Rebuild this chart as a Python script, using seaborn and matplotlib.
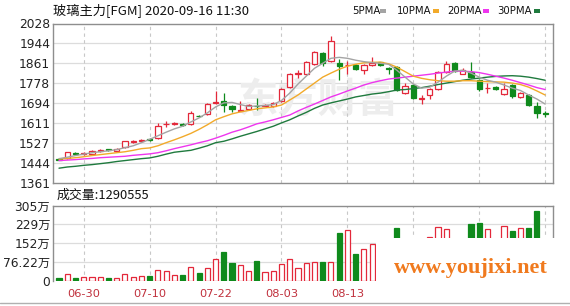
import numpy as np
import matplotlib
matplotlib.use("Agg")
import matplotlib.pyplot as plt
import seaborn as sns
from matplotlib.patches import Rectangle
from matplotlib.lines import Line2D

# ---------------- data ----------------
dates = ["06-23", "06-24", "06-29", "06-30", "07-01", "07-02", "07-03", "07-06", "07-07", "07-08",
         "07-09", "07-10", "07-13", "07-14", "07-15", "07-16", "07-17", "07-20", "07-21", "07-22",
         "07-23", "07-24", "07-27", "07-28", "07-29", "07-30", "07-31", "08-03", "08-04", "08-05",
         "08-06", "08-07", "08-10", "08-11", "08-12", "08-13", "08-14", "08-17", "08-18", "08-19",
         "08-20", "08-21", "08-24", "08-25", "08-26", "08-27", "08-28", "08-31", "09-01", "09-02",
         "09-03", "09-04", "09-07", "09-08", "09-09", "09-10", "09-11", "09-14", "09-15", "09-16"]

open_ = [1460, 1463, 1483, 1480, 1480, 1493, 1500, 1492, 1508, 1530,
         1536, 1542, 1547, 1605, 1608, 1607, 1606, 1642, 1649, 1694,
         1704, 1682, 1663, 1669, 1683, 1684, 1682, 1704, 1762, 1818,
         1818, 1860, 1904, 1871, 1863, 1853, 1856, 1832, 1853, 1865,
         1842, 1846, 1735, 1770, 1712, 1728, 1752, 1825, 1862, 1818,
         1825, 1793, 1756, 1762, 1732, 1770, 1718, 1728, 1682, 1652]
high = [1463, 1490, 1488, 1488, 1498, 1500, 1502, 1505, 1537, 1538,
        1544, 1546, 1610, 1619, 1616, 1610, 1660, 1645, 1693, 1745,
        1737, 1686, 1704, 1690, 1715, 1690, 1700, 1757, 1820, 1832,
        1871, 1912, 1908, 1974, 1878, 1871, 1860, 1857, 1888, 1868,
        1846, 1848, 1777, 1774, 1728, 1757, 1828, 1871, 1866, 1840,
        1867, 1796, 1779, 1765, 1777, 1774, 1742, 1732, 1699, 1662]
low = [1454, 1460, 1476, 1476, 1477, 1489, 1495, 1490, 1505, 1526,
       1532, 1535, 1544, 1595, 1603, 1600, 1603, 1636, 1646, 1692,
       1658, 1658, 1660, 1666, 1665, 1681, 1679, 1700, 1758, 1799,
       1814, 1856, 1848, 1866, 1790, 1818, 1835, 1818, 1850, 1849,
       1818, 1745, 1732, 1710, 1690, 1711, 1749, 1822, 1826, 1815,
       1798, 1746, 1735, 1749, 1728, 1714, 1714, 1682, 1631, 1637]
close = [1457, 1487, 1480, 1483, 1495, 1496, 1497, 1503, 1533, 1533,
         1539, 1539, 1598, 1608, 1611, 1604, 1654, 1640, 1690, 1698,
         1686, 1668, 1666, 1686, 1680, 1686, 1696, 1753, 1815, 1821,
         1867, 1908, 1862, 1954, 1849, 1856, 1839, 1853, 1864, 1853,
         1839, 1749, 1765, 1714, 1715, 1753, 1825, 1857, 1829, 1835,
         1802, 1752, 1759, 1752, 1752, 1724, 1737, 1686, 1654, 1649]

ma5 = [1461, 1467, 1474, 1480, 1486, 1490, 1494, 1499, 1507, 1515,
       1528, 1542, 1557, 1572, 1586, 1597, 1615, 1632, 1653, 1678,
       1695, 1697, 1688, 1680, 1682, 1684, 1688, 1705, 1736, 1774,
       1807, 1840, 1861, 1882, 1886, 1882, 1874, 1868, 1864, 1861,
       1857, 1832, 1803, 1774, 1757, 1761, 1782, 1807, 1828, 1832,
       1820, 1803, 1790, 1782, 1770, 1757, 1747, 1728, 1711, 1690]
ma10 = [1459, 1462, 1465, 1469, 1474, 1478, 1482, 1486, 1490, 1496,
        1503, 1506, 1515, 1528, 1540, 1553, 1567, 1584, 1603, 1624,
        1637, 1649, 1657, 1663, 1670, 1674, 1678, 1686, 1707, 1728,
        1753, 1778, 1803, 1820, 1836, 1849, 1857, 1863, 1865, 1866,
        1859, 1845, 1826, 1807, 1798, 1792, 1788, 1786, 1786, 1788,
        1788, 1786, 1784, 1783, 1782, 1778, 1772, 1761, 1745, 1728]
ma20 = [1453, 1455, 1457, 1460, 1462, 1465, 1467, 1469, 1471, 1475,
        1478, 1481, 1486, 1494, 1503, 1511, 1519, 1528, 1536, 1547,
        1559, 1572, 1582, 1594, 1607, 1615, 1624, 1634, 1644, 1661,
        1676, 1690, 1705, 1720, 1732, 1745, 1757, 1770, 1780, 1788,
        1795, 1799, 1803, 1807, 1811, 1815, 1820, 1824, 1828, 1828,
        1826, 1822, 1815, 1807, 1799, 1790, 1780, 1770, 1759, 1751]
ma30 = [1421, 1426, 1429, 1433, 1436, 1440, 1444, 1449, 1453, 1457,
        1461, 1464, 1471, 1480, 1488, 1492, 1496, 1505, 1515, 1528,
        1534, 1544, 1555, 1565, 1575, 1586, 1597, 1611, 1624, 1640,
        1655, 1672, 1686, 1695, 1703, 1711, 1720, 1726, 1732, 1736,
        1742, 1749, 1751, 1755, 1759, 1765, 1772, 1778, 1784, 1790,
        1795, 1799, 1803, 1806, 1808, 1809, 1807, 1803, 1797, 1790]

# volume in 万 (10k)
volume_wan = [9, 25, 11, 15, 15, 15, 12, 12, 25, 14,
              19, 20, 43, 39, 22, 22, 56, 31, 52, 87,
              115, 70, 63, 39, 79, 33, 39, 67, 87, 50,
              70, 74, 74, 74, 195, 206, 107, 128, 147, 120,
              100, 215, 140, 150, 130, 175, 219, 209, 150, 120,
              229, 233, 209, 140, 223, 201, 215, 215, 283, 129.0555]

price_tick_labels = ["1361", "1444", "1527", "1611", "1694", "1778", "1861", "1944", "2028"]
vol_tick_values = [0, 76.22, 152.44, 228.66, 304.88]
vol_tick_labels = ["0", "76.22万", "152万", "229万", "305万"]
grid_dates = ["06-30", "07-10", "07-22", "08-03", "08-13", "08-25", "09-04", "09-16"]
label_dates = ["06-30", "07-10", "07-22", "08-03", "08-13"]
legend_names = ["5PMA", "10PMA", "20PMA", "30PMA"]
title = "玻璃主力[FGM] 2020-09-16 11:30"
vol_title = "成交量:1290555"

# ---------------- style ----------------
sns.set_theme(style="white")
plt.rcParams["font.family"] = ["DejaVu Sans", "Noto Sans CJK SC"]
plt.rcParams["axes.unicode_minus"] = False

RED = "#e3283a"
GREEN = "#0f8a1c"
MA_COLORS = ["#a4a4a4", "#f2aa2a", "#ee36ee", "#1f7a3e"]
GRID = "#dcdcdc"
SPINE = "#8e8e8e"
W, H = 570, 306

fig = plt.figure(figsize=(W / 100, H / 100), dpi=100)
fig.patch.set_facecolor("white")

def fx(px):
    return px / W

def fy(py):
    return 1 - py / H

ax1 = fig.add_axes([fx(53), fy(182.5), fx(500), (182.5 - 23.5) / H])
ax2 = fig.add_axes([fx(53), fy(280.5), fx(500), 75 / H])

x = np.arange(len(dates))
o = np.array(open_, float)
c = np.array(close, float)
hi = np.array(high, float)
lo = np.array(low, float)
up = c > o
edge = np.where(up, RED, GREEN)
face = np.where(up, "white", GREEN)

grid_idx = [dates.index(d) for d in grid_dates]
label_idx = [dates.index(d) for d in label_dates]
xlim = (-0.73, 59.95)

# ---------------- price panel ----------------
for ax in (ax1, ax2):
    ax.set_facecolor("white")
    for s in ax.spines.values():
        s.set_color(SPINE)
        s.set_linewidth(1.0)
    ax.set_xlim(*xlim)
    ax.tick_params(length=0, pad=2, labelsize=8.8, colors="#222222")
    for gi in grid_idx:
        ax.axvline(gi, color="#c8c8c8", lw=0.8, ls=(0, (3, 3)), zorder=0.6)

ax1.set_ylim(1361, 2028)
pticks = np.linspace(1361, 2028, len(price_tick_labels))
ax1.set_yticks(pticks)
ax1.set_yticklabels(price_tick_labels)
ax1.set_xticks([])
for t in pticks[1:-1]:
    ax1.axhline(t, color=GRID, lw=0.9, zorder=0.5)

# faint site watermark inside the price panel (x in trading-day index units)
ax1.text(31.5, 1705, "东方财富", fontsize=29, color="#ededed", ha="center", va="center",
         family=["Noto Sans CJK SC"], fontweight="bold", zorder=0.55)

ax1.vlines(x, lo, hi, colors=edge, lw=0.9, zorder=2)
body_h = np.maximum(np.abs(c - o), 0.6)
ax1.bar(x, body_h, bottom=np.minimum(o, c), width=0.64, color=face,
        edgecolor=edge, linewidth=0.9, zorder=3)

for vals, col in zip([ma30, ma20, ma10, ma5], MA_COLORS[::-1]):
    sns.lineplot(x=x, y=vals, ax=ax1, color=col, lw=1.0, zorder=4)
ax1.set_xlabel("")
ax1.set_ylabel("")

# ---------------- volume panel ----------------
ax2.set_ylim(0, 304.88)
ax2.set_yticks(vol_tick_values)
ax2.set_yticklabels(vol_tick_labels)
ax2.spines["bottom"].set_visible(False)
for t in vol_tick_values[1:-1]:
    ax2.axhline(t, color=GRID, lw=0.9, zorder=0.5)
ax2.bar(x, volume_wan, width=0.62, color=face, edgecolor=edge, linewidth=0.9, zorder=3)
ax2.set_xticks(label_idx)
ax2.set_xticklabels(label_dates, color="#c0303c", fontsize=8.2)
ax2.tick_params(axis="x", pad=6)

# ---------------- texts ----------------
fig.text(fx(53), fy(11), title, fontsize=9.5, family=["Noto Sans CJK SC", "DejaVu Sans"],
         color="#111111", ha="left", va="center")
fig.text(fx(57), fy(195), vol_title, fontsize=9.3, family=["Noto Sans CJK SC", "DejaVu Sans"],
         color="#111111", ha="left", va="center")

leg_x = [352, 397, 447, 497]
dash_x = [380, 433, 483, 534]
for name, lx, dx, col in zip(legend_names, leg_x, dash_x, MA_COLORS):
    fig.text(fx(lx), fy(10.7), name, fontsize=7.3, color="#111111", ha="left", va="center")
    fig.add_artist(Rectangle((fx(dx), fy(12.5)), fx(6), 3.5 / H, transform=fig.transFigure,
                             facecolor=col, edgecolor="none"))

# white watermark box with site text
fig.add_artist(Rectangle((fx(376), fy(302)), fx(W - 376), (302 - 238) / H,
                         transform=fig.transFigure, facecolor="white", edgecolor="none", zorder=10))
fig.text(fx(471), fy(268), "www.youjixi.net", fontsize=16, fontweight="bold",
         family=["Liberation Serif"], color="#f07a1e", ha="center", va="center", zorder=11)
fig.add_artist(Line2D([0, 1], [fy(303), fy(303)], transform=fig.transFigure,
                      color="#b0b0b0", lw=1.0, zorder=12))

fig.savefig("out.png", dpi=100, facecolor="white")
